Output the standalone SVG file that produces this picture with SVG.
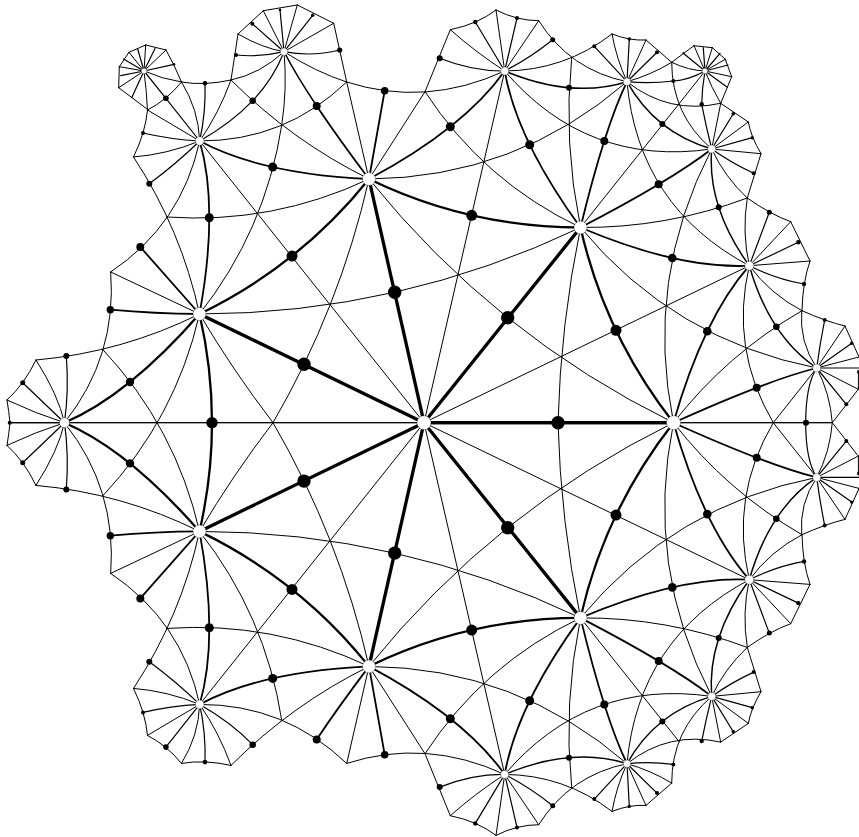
<svg xmlns="http://www.w3.org/2000/svg" xmlns:xlink="http://www.w3.org/1999/xlink" width="859" height="837" viewBox="0 0 859 837">
<style>
path{fill:none;stroke:#000;stroke-linecap:round;stroke-linejoin:round}
.t{stroke-width:1}
.a{stroke-width:3.3}
.b{stroke-width:2.3}
.c{stroke-width:1.8}
.f{stroke-width:1.45}
.e{stroke-width:1.2}
.d{fill:#000}
.w{fill:#fff;stroke:#000;stroke-width:.3}
</style>
<rect width="859" height="837" fill="#fff"/>
<g id="connectors">
<g id="upper">
<path class="t" d="M65 422.7H424"/>
<path class="t" d="M673.5 422.7H832.3"/>
<path class="a" d="M424 422.7H673.5"/>
<path class="a" d="M424 422.7L580.5 227.5"/>
<path class="a" d="M424 422.7L369 179"/>
<path class="a" d="M424 422.7L199.5 314"/>
<path class="t" d="M424 422.7L749.3 265.7"/>
<path class="t" d="M424 422.7L504.7 71"/>
<path class="t" d="M424 422.7L199.7 141"/>
<path class="t" d="M673.5 422.7Q494.75 335.15 369 179"/>
<path class="t" d="M673.5 422.7Q644.2 279.15 711.7 149"/>
<path class="t" d="M673.5 422.7Q726.8 354.1 802 310.7"/>
<path class="t" d="M580.5 227.5Q560.5 324.6 558 422.7"/>
<path class="t" d="M580.5 227.5Q673.7 340.1 816.7 368"/>
<path class="t" d="M580.5 227.5Q666.7 228.1 747.3 198"/>
<path class="t" d="M580.5 227.5L679.3 103.5"/>
<path class="t" d="M580.5 227.5Q563 142 571.7 57.3"/>
<path class="t" d="M580.5 227.5Q483.6 181.5 425 91.7"/>
<path class="t" d="M580.5 227.5Q399.4 313.85 199.5 314"/>
<path class="t" d="M369 179Q339.6 308.2 273 422.7"/>
<path class="t" d="M199.5 314Q233 370.5 273 422.7"/>
<path class="t" d="M369 179Q272.8 224.5 166.7 217"/>
<path class="t" d="M369 179Q291.8 140.9 231 80"/>
<path class="t" d="M369 179L346.7 82"/>
<path class="t" d="M369 179L425 91.7"/>
<path class="t" d="M369 179Q516 178 627 81.7"/>
<path class="t" d="M199.5 314Q265.4 230.5 281.7 125.3"/>
<path class="t" d="M199.5 314Q181.25 229.3 133.5 157"/>
<path class="t" d="M199.5 314L110.7 272"/>
<path class="t" d="M199.5 314Q122.1 352.4 36 360"/>
<path class="t" d="M199.5 314Q175.7 418.2 102.7 496"/>
<path class="t" d="M199.7 141Q181.7 224.5 110.7 272"/>
<path class="t" d="M199.7 141Q167.6 154.3 133.5 157"/>
<path class="t" d="M199.7 141L147.5 110"/>
<path class="t" d="M199.7 141Q198.6 109.5 181.5 82"/>
<path class="t" d="M199.7 141Q219 113 231 80"/>
<path class="t" d="M199.7 141Q285.1 141.2 346.7 82"/>
<path class="t" d="M133.5 157Q145.5 132.5 147.5 110"/>
<path class="t" d="M147.5 110Q167 100 181.5 82"/>
<path class="t" d="M181.5 82Q204 86 231 80"/>
<path class="t" d="M64.5 422.7Q117.2 356.4 110.7 272"/>
<path class="t" d="M64.5 422.7Q58.4 395 36 360"/>
<path class="t" d="M64.5 422.7Q35 413.3 7 400"/>
<path class="t" d="M36 360Q24.5 384 7 400"/>
<path class="t" d="M7 400Q9 412 10 422.7"/>
<path class="t" d="M749.3 265.7Q729.6 349 773.3 422.7"/>
<path class="t" d="M773.3 422.7L816.7 368"/>
<path class="t" d="M627 81.7Q638.2 206.9 749.3 265.7"/>
<path class="t" d="M711.7 149Q724.6 177 747.3 198"/>
<path class="t" d="M749.3 265.7Q741.7 232 747.3 198"/>
<path class="t" d="M749.3 265.7L790.7 221.7"/>
<path class="t" d="M749.3 265.7L810 261"/>
<path class="t" d="M749.3 265.7Q770.4 294.3 802 310.7"/>
<path class="t" d="M504.7 71Q476 52.5 450.3 29.7"/>
<path class="t" d="M504.7 71L496 10"/>
<path class="t" d="M504.7 71L538.7 20.7"/>
<path class="t" d="M504.7 71Q425.7 107.5 346.7 82"/>
<path class="t" d="M504.7 71Q564.5 70.5 612 34"/>
<path class="t" d="M504.7 71Q586.7 167.1 711.7 149"/>
<path class="t" d="M627 81.7Q569.8 70.1 538.7 20.7"/>
<path class="t" d="M627 81.7Q616.5 59 612 34"/>
<path class="t" d="M627 81.7L646 40"/>
<path class="t" d="M627 81.7Q651 75 671.7 62.3"/>
<path class="t" d="M627 81.7Q668.7 114.9 720.7 103.3"/>
<path class="t" d="M711.7 149Q671.7 114.9 671.7 62.3"/>
<path class="t" d="M711.7 149L720.7 103.3"/>
<path class="t" d="M711.7 149L748.3 122"/>
<path class="t" d="M711.7 149L761 153.7"/>
<path class="t" d="M612 34Q629.6 41 646 40"/>
<path class="t" d="M646 40L671.7 62.3"/>
<path class="t" d="M450.3 29.7Q477.6 24.2 496 10"/>
<path class="t" d="M496 10Q516.7 20.7 538.7 20.7"/>
<path class="t" d="M425 91.7L450.3 29.7"/>
<path class="t" d="M720.7 103.3L748.3 122"/>
<path class="t" d="M748.3 122Q751 137 761 153.7"/>
<path class="t" d="M761 153.7L747.3 198"/>
<path class="t" d="M747.3 198Q769.6 214 790.7 221.7"/>
<path class="t" d="M790.7 221.7L810 261"/>
<path class="t" d="M810 261Q802.6 282 802 310.7"/>
<path class="t" d="M802 310.7Q826 321.5 845 326"/>
<path class="t" d="M845 326L859 357"/>
<path class="t" d="M858.4 372V389.3"/>
<path class="t" d="M858.3 389.3L832.3 422.7"/>
<path class="t" d="M816.7 368L859 357"/>
<path class="t" d="M816.7 368L858.3 389.3"/>
<path class="t" d="M816.7 368L845 326"/>
<path class="t" d="M816.7 368Q799 342 801.7 310.7"/>
<path class="t" d="M816.7 368Q830 393 832.3 422.7"/>
<path class="b" d="M673.5 422.7Q605 335.5 580.5 227.5"/>
<path class="b" d="M580.5 227.5Q468.65 227.35 369 179"/>
<path class="b" d="M369 179Q299.75 265.5 199.5 314"/>
<path class="b" d="M199.5 314Q128 395.65 64.5 422.7"/>
<path class="b" d="M199.5 314Q212 368 212 422.7"/>
<path class="c" d="M673.5 422.7Q703.2 318.4 749.3 265.7"/>
<path class="c" d="M673.5 422.7Q768.3 380 816.7 368"/>
<path class="c" d="M580.5 227.5Q671.3 180.35 711.7 149"/>
<path class="c" d="M580.5 227.5Q679.7 269.4 749.3 265.7"/>
<path class="c" d="M580.5 227.5Q516.8 140.15 504.7 71"/>
<path class="c" d="M580.5 227.5Q604.85 127.4 627 81.7"/>
<path class="c" d="M369 179Q463.75 128.4 504.7 71"/>
<path class="c" d="M369 179L384.7 90.7"/>
<path class="c" d="M369 179Q337.95 137.8 316.7 106"/>
<path class="c" d="M369 179Q261 174 199.7 141"/>
<path class="c" d="M199.5 314Q219 207.9 199.7 141"/>
<path class="c" d="M199.5 314L140.3 247"/>
<path class="c" d="M199.5 314Q155 313.8 110.3 309.7"/>
<path class="e" d="M64.5 422.7Q69 390 66.3 356"/>
<path class="e" d="M64.5 422.7L22.7 382.7"/>
<path class="e" d="M64.5 422.7H9.7"/>
<path class="e" d="M199.7 141Q171 139.5 143 133"/>
<path class="e" d="M199.7 141Q176 164 149.3 183.7"/>
<path class="e" d="M199.7 141Q206 112 205 83.3"/>
<path class="e" d="M199.7 141L165.9 98.3"/>
<path class="e" d="M199.7 141Q231.55 123.05 252.7 100.7"/>
<path class="e" d="M504.7 71Q473 71.5 439.7 58.3"/>
<path class="e" d="M504.7 71L475.3 22"/>
<path class="e" d="M504.7 71L517 18"/>
<path class="e" d="M504.7 71Q530 58 552.7 39.7"/>
<path class="f" d="M504.7 71Q572.15 99.05 627 81.7"/>
<path class="e" d="M627 81.7L594.3 46.3"/>
<path class="e" d="M627 81.7L629.3 39"/>
<path class="e" d="M627 81.7L657 52.3"/>
<path class="e" d="M627 81.7Q650 84 673.3 81"/>
<path class="f" d="M627 81.7Q655.25 132.65 711.7 149"/>
<path class="e" d="M711.7 149Q706 126 701.7 104.3"/>
<path class="e" d="M711.7 149L733.3 113.7"/>
<path class="e" d="M711.7 149L752.3 137.7"/>
<path class="e" d="M711.7 149Q731.5 163 753.7 173.3"/>
<path class="f" d="M711.7 149Q706.9 207.25 749.3 265.7"/>
<path class="e" d="M749.3 265.7L769.3 212.3"/>
<path class="e" d="M749.3 265.7L798.3 242.3"/>
<path class="e" d="M749.3 265.7Q776 279 804 284"/>
<path class="f" d="M749.3 265.7Q769.6 336.55 816.7 368"/>
<path class="e" d="M816.7 368Q820 343 824.7 320"/>
<path class="e" d="M816.7 368L851.7 343.3"/>
<path class="e" d="M816.7 368H859"/>
<path class="e" d="M816.7 368L846.3 404.3"/>
<path class="e" d="M816.7 368Q805.7 385 805.7 422.7"/>
</g>
<use xlink:href="#upper" href="#upper" transform="matrix(1 0 0 -1 0 845.4)"/>
<g id="top-only">
<path class="t" d="M281.7 125.3Q287.4 88 284 51.7"/>
<path class="t" d="M346.7 82Q315.7 72 284 51.7"/>
<path class="t" d="M231 80Q260 74 284 51.7"/>
<path class="f" d="M316.7 106Q295.45 74.2 284 51.7"/>
<path class="e" d="M252.7 100.7Q273.7 78.4 284 51.7"/>
<path class="t" d="M284 51.7Q262 48 238 34"/>
<path class="e" d="M284 51.7Q260 57.5 236 55"/>
<path class="e" d="M284 51.7L252.3 23.7"/>
<path class="t" d="M284 51.7L263.3 10.7"/>
<path class="e" d="M284 51.7L280 9.7"/>
<path class="t" d="M284 51.7L297.3 5"/>
<path class="e" d="M284 51.7L312.7 15.3"/>
<path class="t" d="M284 51.7L333.7 23.3"/>
<path class="e" d="M284 51.7Q312 57 339.7 50"/>
<path class="t" d="M238 34L263.3 10.7"/>
<path class="t" d="M263.3 10.7L297.3 5"/>
<path class="t" d="M297.3 5L333.7 23.3"/>
<path class="t" d="M333.7 23.3L346.7 82"/>
<path class="t" d="M231 80L238 34"/>
<path class="t" d="M181.5 82Q174 64 166 50"/>
<path class="t" d="M144 71Q162 79 181.5 82"/>
<path class="t" d="M144 71Q146.5 90 147.5 110"/>
<path class="e" d="M165.9 98.3L144 71"/>
<path class="t" d="M147 109L118.7 87.7"/>
<path class="t" d="M118.7 87.7L119.3 66.7"/>
<path class="t" d="M119.3 66.7L129 52.3"/>
<path class="t" d="M129 52.3L145.7 45"/>
<path class="t" d="M145.7 45L166 50"/>
<path class="t" d="M144 71L166 50"/>
<path class="e" d="M144 71L174 64.3"/>
<path class="e" d="M144 71L155 48.5"/>
<path class="t" d="M144 71L145.7 45"/>
<path class="e" d="M144 71L137.7 49"/>
<path class="t" d="M144 71L129 52.3"/>
<path class="e" d="M144 71L123.5 59"/>
<path class="t" d="M144 71L119.3 66.7"/>
<path class="e" d="M144 71L120.7 75.7"/>
<path class="t" d="M144 71L118.7 87.7"/>
<path class="e" d="M144 71L131.7 97.7"/>
<path class="t" d="M671.7 62.3L694 45.7"/>
<path class="t" d="M694 45.7L712.3 47.7"/>
<path class="t" d="M712.3 47.7L725.3 59.3"/>
<path class="t" d="M725.3 59.3L731.7 76.7"/>
<path class="t" d="M731.7 76.7L720.7 103.3"/>
<path class="t" d="M679.3 103.5L705 71"/>
<path class="t" d="M705 71Q688.5 70.5 671.7 62.3"/>
<path class="e" d="M705 71Q689 80 673.3 81"/>
<path class="e" d="M705 71Q702 88 701.7 104.3"/>
<path class="t" d="M705 71Q711.5 87.5 720.7 103.3"/>
<path class="e" d="M705 71L683.3 53.3"/>
<path class="t" d="M705 71L694 45.7"/>
<path class="e" d="M705 71L703.3 47.7"/>
<path class="t" d="M705 71L712.3 47.7"/>
<path class="e" d="M705 71L720 53.3"/>
<path class="t" d="M705 71L725.3 59.3"/>
<path class="e" d="M705 71L728 65"/>
<path class="t" d="M705 71L731.7 76.7"/>
<path class="e" d="M705 71L727.3 87.3"/>
</g>
</g>
<g id="nodes">
<g id="a1"><circle class="d" cx="558" cy="422.7" r="6.7"/></g>
<g id="a2"><circle class="d" cx="212" cy="422.7" r="5.7"/></g>
<g id="a3"><circle class="d" cx="806" cy="422.7" r="3"/></g>
<g id="a4"><circle class="d" cx="9.7" cy="422.7" r="2"/></g>
<g id="u1"><circle class="d" cx="507.7" cy="317.7" r="6.7"/></g>
<g id="u2"><circle class="d" cx="394.7" cy="292.3" r="6.7"/></g>
<g id="u3"><circle class="d" cx="304" cy="364.3" r="6.7"/></g>
<g id="u4"><circle class="d" cx="292" cy="256" r="5.5"/></g>
<g id="u5"><circle class="d" cx="471.7" cy="215.3" r="5.5"/></g>
<g id="u6"><circle class="d" cx="616" cy="330.3" r="5.5"/></g>
<g id="u7"><circle class="d" cx="209.3" cy="217.7" r="4.5"/></g>
<g id="u8"><circle class="d" cx="130" cy="382" r="4.2"/></g>
<g id="u9"><circle class="d" cx="272.7" cy="167" r="4.5"/></g>
<g id="u10"><circle class="d" cx="707.3" cy="331.3" r="4.3"/></g>
<g id="u11"><circle class="d" cx="672.3" cy="258" r="4.3"/></g>
<g id="u12"><circle class="d" cx="529.7" cy="144.7" r="4.5"/></g>
<g id="u13"><circle class="d" cx="450.3" cy="126.7" r="4.5"/></g>
<g id="u14"><circle class="d" cx="316.7" cy="106" r="4"/></g>
<g id="u15"><circle class="d" cx="604.3" cy="141" r="4"/></g>
<g id="u16"><circle class="d" cx="658.7" cy="184.3" r="4"/></g>
<g id="u17"><circle class="d" cx="756.7" cy="387.7" r="4"/></g>
<g id="u18"><circle class="d" cx="140.3" cy="247" r="4"/></g>
<g id="u19"><circle class="d" cx="110.3" cy="309.7" r="3.7"/></g>
<g id="u20"><circle class="d" cx="66.3" cy="356" r="3"/></g>
<g id="u21"><circle class="d" cx="22.7" cy="382.7" r="2.5"/></g>
<g id="u22"><circle class="d" cx="252.7" cy="100.7" r="3.3"/></g>
<g id="u23"><circle class="d" cx="165.9" cy="98.3" r="2.8"/></g>
<g id="u24"><circle class="d" cx="205" cy="83.3" r="2.3"/></g>
<g id="u25"><circle class="d" cx="143" cy="133" r="2"/></g>
<g id="u26"><circle class="d" cx="149.3" cy="183.7" r="3"/></g>
<g id="u27"><circle class="d" cx="384.7" cy="90.7" r="3.8"/></g>
<g id="u28"><circle class="d" cx="439.7" cy="58.3" r="3"/></g>
<g id="u29"><circle class="d" cx="475.3" cy="22" r="2.2"/></g>
<g id="u30"><circle class="d" cx="517" cy="18" r="2"/></g>
<g id="u31"><circle class="d" cx="552.7" cy="39.7" r="2.5"/></g>
<g id="u32"><circle class="d" cx="569" cy="87.7" r="3"/></g>
<g id="u33"><circle class="d" cx="594.3" cy="46.3" r="2"/></g>
<g id="u34"><circle class="d" cx="629.3" cy="39" r="1.7"/></g>
<g id="u35"><circle class="d" cx="657" cy="52.3" r="2"/></g>
<g id="u36"><circle class="d" cx="673.3" cy="81" r="2"/></g>
<g id="u37"><circle class="d" cx="662.3" cy="124" r="3"/></g>
<g id="u38"><circle class="d" cx="701.7" cy="104.3" r="2.2"/></g>
<g id="u39"><circle class="d" cx="733.3" cy="113.7" r="1.8"/></g>
<g id="u40"><circle class="d" cx="752.3" cy="137.7" r="1.7"/></g>
<g id="u41"><circle class="d" cx="753.7" cy="173.3" r="2"/></g>
<g id="u42"><circle class="d" cx="718.7" cy="207.3" r="3"/></g>
<g id="u43"><circle class="d" cx="769.3" cy="212.3" r="2.5"/></g>
<g id="u44"><circle class="d" cx="798.3" cy="242.3" r="2.2"/></g>
<g id="u45"><circle class="d" cx="804" cy="284" r="2.2"/></g>
<g id="u46"><circle class="d" cx="776.3" cy="326.7" r="3.3"/></g>
<g id="u47"><circle class="d" cx="824.7" cy="320" r="2"/></g>
<g id="u48"><circle class="d" cx="851.7" cy="343.3" r="1.7"/></g>
<g id="u49"><circle class="d" cx="846.3" cy="404.3" r="2"/></g>
<g id="u50"><circle class="d" cx="859" cy="372" r="2"/></g>
<g id="l1"><circle class="d" cx="507.7" cy="527.7" r="6.7"/></g>
<g id="l2"><circle class="d" cx="394.7" cy="553.1" r="6.7"/></g>
<g id="l3"><circle class="d" cx="304" cy="481.1" r="6.7"/></g>
<g id="l4"><circle class="d" cx="292" cy="589.4" r="5.5"/></g>
<g id="l5"><circle class="d" cx="471.7" cy="630.1" r="5.5"/></g>
<g id="l6"><circle class="d" cx="616" cy="515.1" r="5.5"/></g>
<g id="l7"><circle class="d" cx="209.3" cy="627.7" r="4.5"/></g>
<g id="l8"><circle class="d" cx="130" cy="463.4" r="4.2"/></g>
<g id="l9"><circle class="d" cx="272.7" cy="678.4" r="4.5"/></g>
<g id="l10"><circle class="d" cx="707.3" cy="514.1" r="4.3"/></g>
<g id="l11"><circle class="d" cx="672.3" cy="587.4" r="4.3"/></g>
<g id="l12"><circle class="d" cx="529.7" cy="700.7" r="4.5"/></g>
<g id="l13"><circle class="d" cx="450.3" cy="718.7" r="4.5"/></g>
<g id="l14"><circle class="d" cx="316.7" cy="739.4" r="4"/></g>
<g id="l15"><circle class="d" cx="604.3" cy="704.4" r="4"/></g>
<g id="l16"><circle class="d" cx="658.7" cy="661.1" r="4"/></g>
<g id="l17"><circle class="d" cx="756.7" cy="457.7" r="4"/></g>
<g id="l18"><circle class="d" cx="140.3" cy="598.4" r="4"/></g>
<g id="l19"><circle class="d" cx="110.3" cy="535.7" r="3.7"/></g>
<g id="l20"><circle class="d" cx="66.3" cy="489.4" r="3"/></g>
<g id="l21"><circle class="d" cx="22.7" cy="462.7" r="2.5"/></g>
<g id="l22"><circle class="d" cx="252.7" cy="744.7" r="3.3"/></g>
<g id="l23"><circle class="d" cx="165.9" cy="747.1" r="2.8"/></g>
<g id="l24"><circle class="d" cx="205" cy="762.1" r="2.3"/></g>
<g id="l25"><circle class="d" cx="143" cy="712.4" r="2"/></g>
<g id="l26"><circle class="d" cx="149.3" cy="661.7" r="3"/></g>
<g id="l27"><circle class="d" cx="384.7" cy="754.7" r="3.8"/></g>
<g id="l28"><circle class="d" cx="439.7" cy="787.1" r="3"/></g>
<g id="l29"><circle class="d" cx="475.3" cy="823.4" r="2.2"/></g>
<g id="l30"><circle class="d" cx="517" cy="827.4" r="2"/></g>
<g id="l31"><circle class="d" cx="552.7" cy="805.7" r="2.5"/></g>
<g id="l32"><circle class="d" cx="569" cy="757.7" r="3"/></g>
<g id="l33"><circle class="d" cx="594.3" cy="799.1" r="2"/></g>
<g id="l34"><circle class="d" cx="629.3" cy="806.4" r="1.7"/></g>
<g id="l35"><circle class="d" cx="657" cy="793.1" r="2"/></g>
<g id="l36"><circle class="d" cx="673.3" cy="764.4" r="2"/></g>
<g id="l37"><circle class="d" cx="662.3" cy="721.4" r="3"/></g>
<g id="l38"><circle class="d" cx="701.7" cy="741.1" r="2.2"/></g>
<g id="l39"><circle class="d" cx="733.3" cy="731.7" r="1.8"/></g>
<g id="l40"><circle class="d" cx="752.3" cy="707.7" r="1.7"/></g>
<g id="l41"><circle class="d" cx="753.7" cy="672.1" r="2"/></g>
<g id="l42"><circle class="d" cx="718.7" cy="638.1" r="3"/></g>
<g id="l43"><circle class="d" cx="769.3" cy="633.1" r="2.5"/></g>
<g id="l44"><circle class="d" cx="798.3" cy="603.1" r="2.2"/></g>
<g id="l45"><circle class="d" cx="804" cy="561.4" r="2.2"/></g>
<g id="l46"><circle class="d" cx="776.3" cy="518.7" r="3.3"/></g>
<g id="l47"><circle class="d" cx="824.7" cy="525.4" r="2"/></g>
<g id="l48"><circle class="d" cx="851.7" cy="502.1" r="1.7"/></g>
<g id="l49"><circle class="d" cx="846.3" cy="441.1" r="2"/></g>
<g id="l50"><circle class="d" cx="859" cy="473.4" r="2"/></g>
<g id="t1"><circle class="d" cx="339.7" cy="50" r="2.6"/></g>
<g id="t2"><circle class="d" cx="312.7" cy="15.3" r="1.7"/></g>
<g id="t3"><circle class="d" cx="252.3" cy="23.7" r="2"/></g>
<g id="t4"><circle class="d" cx="236" cy="55" r="2"/></g>
<g id="t5"><circle class="d" cx="174" cy="64.3" r="1.3"/></g>
<g id="t6"><circle class="d" cx="280" cy="9.7" r="1.3"/></g>
<g id="t8"><circle class="d" cx="683.3" cy="53.3" r="1"/></g>
<g id="h0"><circle class="w" cx="424" cy="422.7" r="7"/></g>
<g id="h1"><circle class="w" cx="673.5" cy="422.7" r="7"/></g>
<g id="h2"><circle class="w" cx="580.5" cy="227.5" r="6.5"/></g>
<g id="h3"><circle class="w" cx="369" cy="179" r="6.5"/></g>
<g id="h4"><circle class="w" cx="199.5" cy="314" r="6.5"/></g>
<g id="h5"><circle class="w" cx="64.5" cy="422.7" r="5"/></g>
<g id="h6"><circle class="w" cx="199.5" cy="531.4" r="6.5"/></g>
<g id="h7"><circle class="w" cx="369" cy="666.4" r="6.5"/></g>
<g id="h8"><circle class="w" cx="580.5" cy="617.9" r="6.5"/></g>
<g id="h9"><circle class="w" cx="199.7" cy="141" r="4.3"/></g>
<g id="h10"><circle class="w" cx="284" cy="51.7" r="3.7"/></g>
<g id="h11"><circle class="w" cx="144" cy="71" r="2.8"/></g>
<g id="h12"><circle class="w" cx="504.7" cy="71" r="4"/></g>
<g id="h13"><circle class="w" cx="627" cy="81.7" r="3.7"/></g>
<g id="h14"><circle class="w" cx="705" cy="71" r="2.8"/></g>
<g id="h15"><circle class="w" cx="711.7" cy="149" r="4"/></g>
<g id="h16"><circle class="w" cx="749.3" cy="265.7" r="4.5"/></g>
<g id="h17"><circle class="w" cx="816.7" cy="368" r="4"/></g>
<g id="h18"><circle class="w" cx="816.7" cy="477.4" r="4"/></g>
<g id="h19"><circle class="w" cx="749.3" cy="579.7" r="4.5"/></g>
<g id="h20"><circle class="w" cx="711.7" cy="696.4" r="4"/></g>
<g id="h21"><circle class="w" cx="627" cy="763.7" r="3.7"/></g>
<g id="h22"><circle class="w" cx="504.7" cy="774.4" r="4"/></g>
<g id="h23"><circle class="w" cx="199.7" cy="704.4" r="4.3"/></g>
</g>
</svg>
